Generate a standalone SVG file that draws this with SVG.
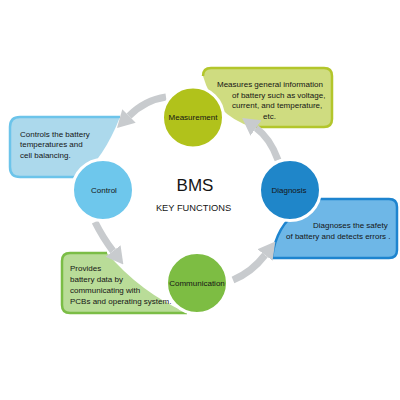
<svg xmlns="http://www.w3.org/2000/svg" width="400" height="400" viewBox="0 0 400 400">
<style>
text{font-family:"Liberation Sans",Arial,sans-serif;fill:#151515}
.lbl{font-size:8px}
.cl{font-size:8px;text-anchor:middle}
.edge{fill:none;stroke-width:2.5;stroke-linejoin:round}
.circ{stroke:#fff;stroke-width:3}
.arr{fill:none;stroke:#c8cbce;stroke-width:7}
</style>
<defs>
<marker id="ah" markerUnits="userSpaceOnUse" markerWidth="17" markerHeight="19" viewBox="0 0 17 19" refX="0" refY="9.5" orient="auto">
<path d="M0,0 L17,9.5 L0,19 Z" fill="#c8cbce"/>
</marker>
</defs>
<rect width="400" height="400" fill="#fff"/>

<g id="box-control">
<path d="M20,117 H120 Q104,158 80,177 H20 Q10,177 10,167 V127 Q10,117 20,117 Z" fill="#acd9ec"/>
<path class="edge" d="M120,117 H20 Q10,117 10,127 V167 Q10,177 20,177 H82" stroke="#6cc4ea"/>
<text class="lbl" x="20" y="136.5">Controls the battery</text>
<text class="lbl" x="20" y="147">temperatures and</text>
<text class="lbl" x="20" y="157.5">cell balancing.</text>
</g>

<g id="box-measurement">
<path d="M211,68 H324 Q332,68 332,76 V119 Q332,127 324,127 H252 Q214,115 203,76 Q203,68 211,68 Z" fill="#cfdc80"/>
<path class="edge" d="M252,127 H324 Q332,127 332,119 V76 Q332,68 324,68 H211 Q203,68 203,76" stroke="#b3c62b"/>
<text class="lbl" x="217" y="87">Measures general information</text>
<text class="lbl" x="232" y="97.5">of battery such as voltage,</text>
<text class="lbl" x="232" y="108">current, and temperature,</text>
<text class="lbl" x="263" y="118.5">etc.</text>
</g>

<g id="box-diagnosis">
<path d="M318,199 H389 Q397,199 397,207 V250 Q397,258 389,258 H272 Q276,225 300,210 Z" fill="#6eb7e7" stroke="#1d84cf" stroke-width="2.5" stroke-linejoin="round"/>
<text class="lbl" x="313" y="227.5">Diagnoses the safety</text>
<text class="lbl" x="286" y="238.5">of battery and detects errors .</text>
</g>

<g id="box-communication">
<path d="M70,253 H107 Q140,292 187,313 H70 Q62,313 62,305 V261 Q62,253 70,253 Z" fill="#b9dc98"/>
<path class="edge" d="M107,253 H70 Q62,253 62,261 V305 Q62,313 70,313 H187" stroke="#7bbd46"/>
<text class="lbl" x="70" y="270.5">Provides</text>
<text class="lbl" x="70" y="282">battery data by</text>
<text class="lbl" x="70" y="293">communicating with</text>
<text class="lbl" x="70" y="304">PCBs and operating system.</text>
</g>

<g id="connectors">
<path class="arr" d="M166,97 Q145,100 129,116" marker-end="url(#ah)"/>
<path class="arr" d="M95,222 Q103,238 113,251" marker-end="url(#ah)"/>
<path class="arr" d="M233,280 Q252,272 265,255" marker-end="url(#ah)"/>
<path class="arr" d="M278,160 Q270,138 256,128" marker-end="url(#ah)"/>
</g>

<g id="node-measurement">
<circle class="circ" cx="193" cy="117.5" r="30.5" fill="#b1c21b"/>
<text class="cl" x="193" y="120">Measurement</text>
</g>
<g id="node-control">
<circle class="circ" cx="103" cy="190" r="30.5" fill="#6ec7ec"/>
<text class="cl" x="104" y="193">Control</text>
</g>
<g id="node-diagnosis">
<circle class="circ" cx="290" cy="190" r="30.5" fill="#1f86c9"/>
<text class="cl" x="289" y="193">Diagnosis</text>
</g>
<g id="node-communication">
<circle class="circ" cx="197" cy="283" r="30.5" fill="#7dbd43"/>
<text class="cl" x="197" y="286">Communication</text>
</g>

<g id="center">
<text x="195" y="191" font-size="17" text-anchor="middle">BMS</text>
<text x="193.5" y="211" font-size="9.3" text-anchor="middle">KEY FUNCTIONS</text>
</g>
</svg>
